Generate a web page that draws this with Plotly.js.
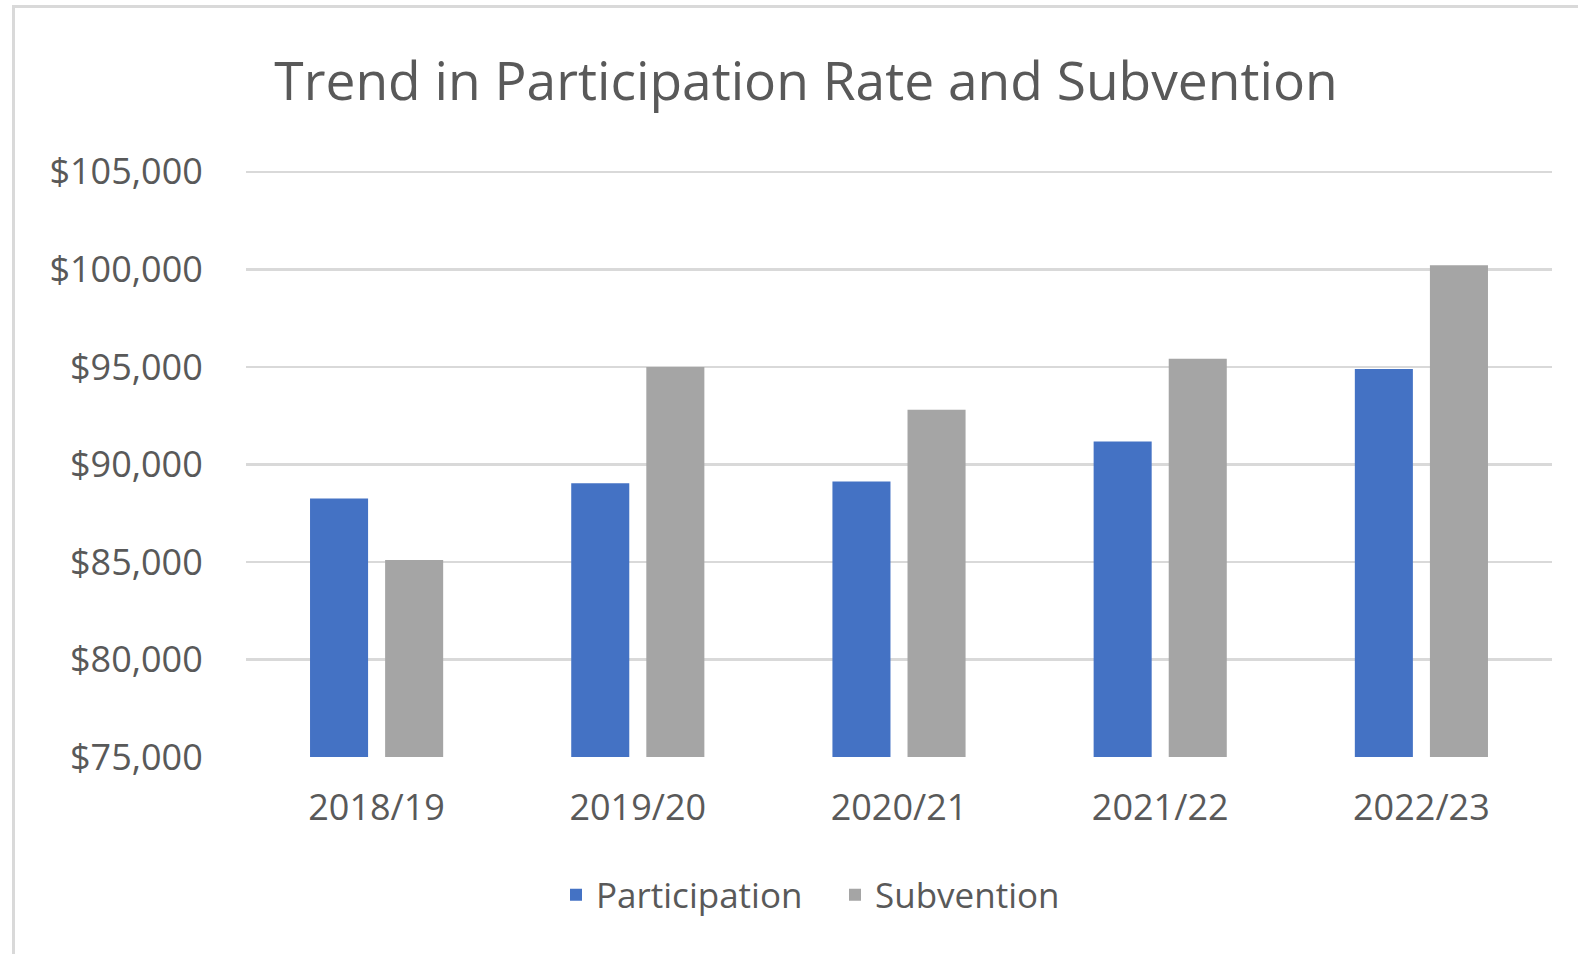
<!DOCTYPE html>
<html>
<head>
<meta charset="utf-8">
<script src="https://cdn.plot.ly/plotly-3.0.1.min.js"></script>
<style>
  html, body { margin: 0; padding: 0; background: #ffffff; overflow: hidden; }
  #chart { position: absolute; left: 0; top: 0; width: 1578px; height: 954px; }
  #frame { position: absolute; left: 12px; top: 5px; width: 1700px; height: 1100px;
           border-left: 3px solid #d9d9d9; border-top: 3px solid #d9d9d9; pointer-events: none; }
</style>
</head>
<body>
<div id="chart"></div>
<div id="frame"></div>
<script>
const years = ["2018/19", "2019/20", "2020/21", "2021/22", "2022/23"];
const participation = [88250, 89030, 89130, 91180, 94890];
const subvention = [85100, 95000, 92800, 95420, 100210];
const seriesNames = ["Participation", "Subvention"];
const seriesColors = ["#4472C4", "#A5A5A5"];
const chartTitle = "Trend in Participation Rate and Subvention";

const textColor = "#595959";
const fontFamily = "'Open Sans', 'Noto Sans', sans-serif";

const traces = [
  { type: "bar", name: seriesNames[0], x: years, y: participation,
    marker: { color: seriesColors[0], line: { width: 0 } }, hoverinfo: "x+y+name" },
  { type: "bar", name: seriesNames[1], x: years, y: subvention,
    marker: { color: seriesColors[1], line: { width: 0 } }, hoverinfo: "x+y+name" }
];

const layout = {
  width: 1578,
  height: 954,
  paper_bgcolor: "#ffffff",
  plot_bgcolor: "#ffffff",
  margin: { l: 246, r: 26, t: 166, b: 197, pad: 0 },
  font: { family: fontFamily, color: textColor },
  title: {
    text: chartTitle,
    font: { family: fontFamily, size: 53.3, color: textColor },
    xref: "container", x: 806 / 1578, xanchor: "center",
    yref: "container", y: 1 - 81 / 954, yanchor: "middle"
  },
  barmode: "group",
  bargap: 0.425,
  bargroupgap: 0.227,
  xaxis: {
    type: "category",
    showgrid: false,
    zeroline: false,
    showline: false,
    ticks: "outside",
    ticklen: 19,
    tickcolor: "rgba(0,0,0,0)",
    tickfont: { family: fontFamily, size: 36, color: textColor }
  },
  yaxis: {
    range: [75000, 105300],
    tickvals: [75000, 80000, 85000, 90000, 95000, 100000, 105000],
    tickformat: "$,.0f",
    showgrid: true,
    gridcolor: "#d9d9d9",
    gridwidth: 2.5,
    zeroline: false,
    showline: false,
    ticks: "outside",
    ticklen: 35,
    tickcolor: "rgba(0,0,0,0)",
    tickfont: { family: fontFamily, size: 36, color: textColor }
  },
  showlegend: true,
  legend: {
    orientation: "h",
    xref: "paper", x: (835 - 246) / 1306, xanchor: "center",
    yref: "paper", y: -(895 - 757) / 591, yanchor: "middle",
    font: { family: fontFamily, size: 35, color: textColor },
    entrywidth: 234,
    entrywidthmode: "pixels",
    bgcolor: "rgba(0,0,0,0)",
    traceorder: "normal"
  }
};

Plotly.newPlot("chart", traces, layout, { displayModeBar: false, staticPlot: true });
</script>
</body>
</html>
